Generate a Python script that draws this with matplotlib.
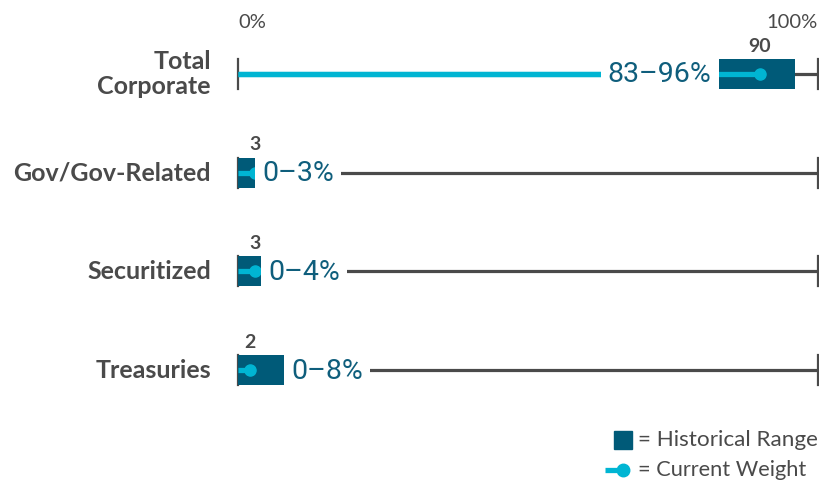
import matplotlib
matplotlib.use("Agg")
import matplotlib.pyplot as plt

# Sector weights (percent)
categories = ["Total\nCorporate", "Gov/Gov-Related", "Securitized", "Treasuries"]
range_low = [83, 0, 0, 0]
range_high = [96, 3, 4, 8]
current = [90, 3, 3, 2]
range_labels = ["83\u201396%", "0\u20133%", "0\u20134%", "0\u20138%"]
tick_labels = ["0%", "100%"]

BOX = "#005a78"
CYAN = "#00b5d3"
GRAY = "#4a4a4a"
LABEL = "#0f5e7c"

W, H = 820, 482
fig = plt.figure(figsize=(W / 100, H / 100), dpi=100)
ax = fig.add_axes([0, 0, 1, 1])
ax.axis("off")

# 0% sits at pixel 238, 100% at pixel 818
px_per_pct = 5.8
x0 = 238
ax.set_xlim(-x0 / px_per_pct, (W - x0) / px_per_pct)
ax.set_ylim(H, 0)

row_y = [74 + i * 98.7 for i in range(len(categories))]
box_h = 30
tick_h = 30

for i, cat in enumerate(categories):
    y = row_y[i]
    # grey full-scale track with end ticks
    ax.plot([0, 100], [y, y], color=GRAY, lw=2.3, solid_capstyle="butt", zorder=1)
    for xv in (0, 100):
        ax.plot([xv, xv], [y - tick_h / 2, y + tick_h / 2], color=GRAY, lw=1.6, zorder=1)
    # current weight line
    ax.plot([0, current[i]], [y, y], color=CYAN, lw=3.8, solid_capstyle="butt", zorder=2)
    # historical range box
    ax.barh(y, range_high[i] - range_low[i], left=range_low[i], height=box_h,
            color=BOX, zorder=3)
    ax.plot([0, current[i]], [y, y], color=CYAN, lw=3.8, solid_capstyle="butt", zorder=4)
    ax.plot(current[i], y, "o", color=CYAN, ms=8, zorder=4)
    # value above the dot
    ax.text(current[i], y - 28, str(current[i]), color=GRAY, fontsize=14,
            fontweight="bold", family="Lato", ha="center", va="center", zorder=6)
    # range label, placed before the box for the wide row, after it otherwise
    bbox = dict(boxstyle="square,pad=0.25", fc="white", ec="none")
    if range_low[i] > 50:
        ax.text(range_low[i] - 8 / px_per_pct, y + 1, range_labels[i], color=LABEL,
                fontsize=20.5, family=["Roboto", "Lato"], ha="right", va="center",
                bbox=bbox, zorder=5)
    else:
        ax.text(range_high[i] + 7 / px_per_pct, y + 1, range_labels[i], color=LABEL,
                fontsize=20.5, family=["Roboto", "Lato"], ha="left", va="center",
                bbox=bbox, zorder=5)
    # category name
    ax.text(-27 / px_per_pct, y, cat, color=GRAY, fontsize=18, fontweight="bold",
            family="Lato", ha="right", va="center", linespacing=1.15, zorder=6)

# scale labels
ax.text(0, 22, tick_labels[0], color=GRAY, fontsize=14.5, family="Lato",
        ha="left", va="center")
ax.text(100, 22, tick_labels[1], color=GRAY, fontsize=14.5, family="Lato",
        ha="right", va="center")

# key
kx = (623 - x0) / px_per_pct
tx = (638 - x0) / px_per_pct
ax.plot(kx, 440, "s", color=BOX, ms=13, zorder=3)
ax.text(tx, 440, "= Historical Range", color=GRAY, fontsize=16.2, family="Lato",
        ha="left", va="center")
ax.plot([(605 - x0) / px_per_pct, kx], [470, 470], color=CYAN, lw=3.8,
        solid_capstyle="butt", zorder=3)
ax.plot(kx, 470, "o", color=CYAN, ms=9, zorder=3)
ax.text(tx, 470, "= Current Weight", color=GRAY, fontsize=15.7, family="Lato",
        ha="left", va="center")

fig.savefig("out.png", dpi=100)
